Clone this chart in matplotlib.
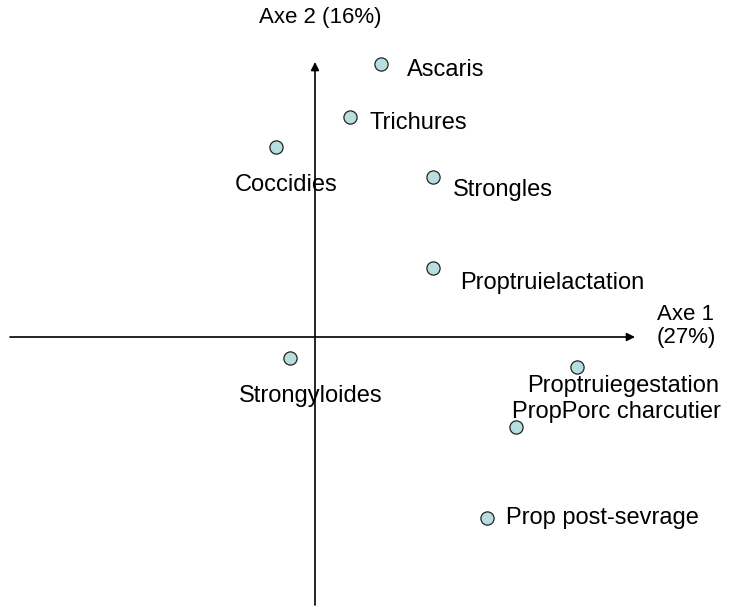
import matplotlib
matplotlib.use('Agg')
import matplotlib.pyplot as plt

# factor scores on the first two axes
labels = ['Ascaris', 'Trichures', 'Coccidies', 'Strongles', 'Proptruielactation',
          'Strongyloides', 'Proptruiegestation', 'PropPorc charcutier', 'Prop post-sevrage']
axe1 = [0.66, 0.35, -0.39, 1.18, 1.18, -0.25, 2.62, 2.01, 1.72]
axe2 = [2.73, 2.20, 1.90, 1.60, 0.69, -0.21, -0.30, -0.90, -1.81]

# label offsets in pixels (left edge, vertical centre)
offsets = [(26, -6), (20, -6), (-41, -38), (20, -13), (27, -15),
           (-51, -38), (-50, -19), (-4, 15), (19, 0)]

plt.rcParams['font.family'] = ['Liberation Sans', 'DejaVu Sans']
FS = 17

fig = plt.figure(figsize=(7.41, 6.07), dpi=100, facecolor='white')
ax = fig.add_axes([0, 0, 1, 1])
ax.set_xlim(-3.15, 4.26)
ax.set_ylim(-2.70, 3.37)
ax.axis('off')

arrow = dict(arrowstyle='-|>', color='black', lw=1.2, mutation_scale=12,
             shrinkA=0, shrinkB=0)
ax.annotate('', xy=(3.20, 0), xytext=(-3.05, 0), arrowprops=arrow)
ax.annotate('', xy=(0, 2.75), xytext=(0, -2.68), arrowprops=arrow)

ax.plot(axe1, axe2, 'o', ms=9.5, mfc='#b8dfe0', mec='#222222', mew=0.9, zorder=3)

for x, y, lab, (dx, dy) in zip(axe1, axe2, labels, offsets):
    ax.annotate(lab, (x, y), xytext=(dx, dy), textcoords='offset pixels',
                ha='left', va='center', fontsize=FS, color='black')

ax.text(-0.56, 3.19, 'Axe 2 (16%)', ha='left', va='center', fontsize=16)
ax.text(3.42, 0.11, 'Axe 1\n(27%)', ha='left', va='center', fontsize=16,
        linespacing=1.15)

fig.savefig('out.png', dpi=100, facecolor='white')
